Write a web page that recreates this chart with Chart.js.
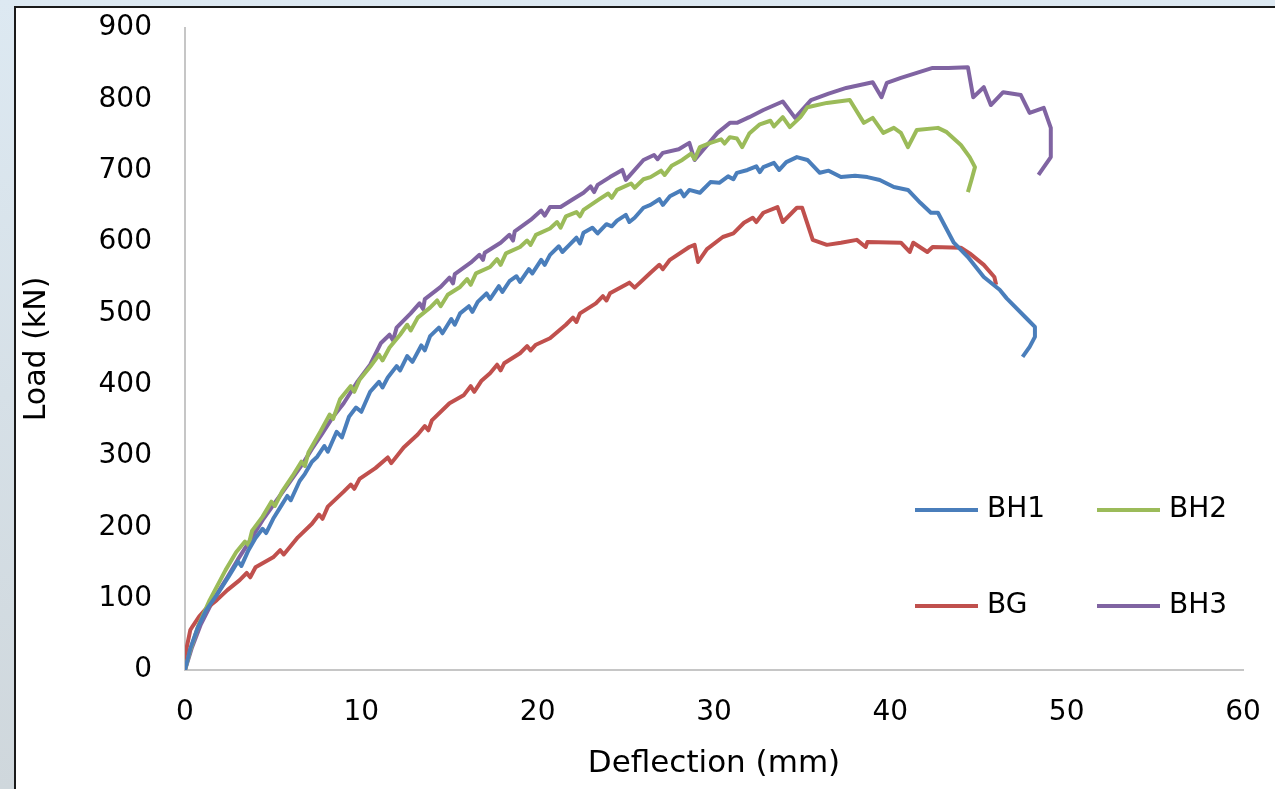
<!DOCTYPE html>
<html>
<head>
<meta charset="utf-8">
<script src="https://cdn.jsdelivr.net/npm/chart.js@4.4.0/dist/chart.umd.min.js"></script>
<style>
html,body{margin:0;padding:0;overflow:hidden;}
body{width:1275px;height:789px;background:linear-gradient(#dde9f2,#cfd7dc);}
#box{position:absolute;left:14px;top:6px;width:1290px;height:800px;background:#fff;border-left:2px solid #1a1a1a;border-top:2px solid #1a1a1a;}
</style>
</head>
<body>
<div id="box"><canvas id="myCanvas" width="1290" height="800"></canvas></div>
<script>
var seriesNames = ["BH1", "BH2", "BG", "BH3"];
var seriesColors = ["#4a7ebb", "#9bbb59", "#c0504d", "#8064a2"];
var xTicks = [0, 10, 20, 30, 40, 50, 60];
var yTicks = [0, 100, 200, 300, 400, 500, 600, 700, 800, 900];

// BH1
var bh1Defl = [0,0.3,0.7,1.2,1.8,2.5,3.0,3.2,3.6,4.0,4.4,4.6,5.0,5.4,5.8,6.0,6.5,6.8,7.2,7.5,7.9,8.1,8.6,8.9,9.3,9.7,10.0,10.5,11.0,11.2,11.5,12.0,12.2,12.6,12.9,13.4,13.6,13.9,14.4,14.6,15.1,15.3,15.6,16.1,16.3,16.6,17.1,17.3,17.8,18.0,18.4,18.8,19.0,19.5,19.7,20.2,20.4,20.7,21.2,21.4,21.8,22.2,22.4,22.6,23.1,23.4,23.9,24.2,24.5,25.0,25.2,25.5,26.0,26.4,26.9,27.1,27.5,28.1,28.3,28.6,29.2,29.8,30.3,30.8,31.1,31.3,31.9,32.4,32.6,32.8,33.4,33.7,34.1,34.7,
	35.3,36.0,36.5,37.2,38.0,38.7,39.4,40.2,41.0,41.7,42.3,42.7,43.6,44.4,45.3,46.2,46.6,47.8,48.2,48.2,47.9,47.5];
var bh1Load = [0,30,58,84,105,132,152,146,168,185,198,192,212,228,244,238,265,275,292,299,314,306,334,326,355,368,362,390,404,396,410,426,420,440,432,455,448,468,480,472,492,484,500,510,502,516,528,520,538,530,545,552,544,562,556,575,568,582,594,586,596,606,598,613,620,612,625,622,630,638,628,634,648,652,660,652,664,672,664,673,669,684,683,692,688,697,701,706,698,705,711,701,712,719,
	715,697,700,691,693,691,687,677,673,655,641,641,599,579,551,533,521,491,481,467,453,439];

// BH2
var bh2Defl = [0,0.3,0.75,1.4,2.3,2.9,3.4,3.6,3.8,4.4,4.9,5.1,5.5,6.1,6.6,6.8,7.0,7.7,8.2,8.4,8.8,9.4,9.6,9.9,10.5,11.0,11.2,11.6,12.2,12.6,12.8,13.2,13.9,14.3,14.5,14.9,15.6,16.0,16.2,16.5,17.3,17.7,17.9,18.2,19.0,19.4,19.6,19.9,20.7,21.1,21.3,21.6,22.2,22.4,22.6,23.5,24.0,24.2,24.5,25.3,25.5,26.0,26.4,27.0,27.2,27.6,28.2,28.7,28.9,29.2,29.8,30.4,30.6,30.9,31.3,31.6,32.0,32.6,33.2,33.4,33.9,34.3,34.9,35.3,
	36.4,37.7,38.5,39.0,39.6,40.2,40.6,41.0,41.5,42.7,43.2,44.0,44.5,44.8,44.6,44.4];
var bh2Load = [0,28,62,98,140,165,180,175,195,215,236,230,250,272,292,286,305,335,358,352,380,398,390,407,425,442,434,452,470,484,476,494,508,518,510,526,537,548,540,556,565,576,568,584,593,602,596,610,619,628,620,636,642,636,645,660,668,662,673,682,676,688,691,700,694,707,715,724,716,733,739,744,738,747,745,733,752,765,770,762,775,761,775,789,
	795,799,767,774,753,760,753,733,757,760,754,736,719,705,687,670];

// BG
var bgDefl = [0,0.1,0.3,0.45,0.8,1.2,1.8,2.4,3.1,3.5,3.7,4.0,5.0,5.4,5.6,6.4,7.2,7.6,7.8,8.1,9.0,9.4,9.6,9.9,10.8,11.5,11.7,12.4,13.2,13.6,13.8,14.0,15.0,15.8,16.2,16.4,16.8,17.3,17.7,17.9,18.1,19.0,19.4,19.6,19.9,20.7,21.6,22.0,22.2,22.4,23.3,23.7,23.9,24.1,25.2,25.5,26.4,26.9,27.1,27.5,28.6,28.9,29.1,29.6,30.5,31.1,31.7,32.2,32.4,32.8,33.6,33.9,34.7,35.0,35.6,36.4,37.2,38.1,38.6,38.7,40.6,41.1,41.3,42.1,42.4,44.0,44.5,45.3,45.9,46.0];
var bgLoad = [0,32,56,62,75,86,98,112,126,136,130,144,158,168,162,186,205,218,212,229,250,260,254,268,283,298,290,312,330,342,336,350,374,385,398,390,405,416,428,420,430,444,454,448,456,465,484,494,488,500,514,524,518,528,543,536,557,568,562,575,593,596,572,590,607,612,627,634,628,641,649,628,648,648,603,596,599,603,593,600,599,586,599,586,593,592,584,568,551,540];

// BH3
var bh3Defl = [0,0.4,0.9,1.6,2.4,3.0,3.7,4.4,5.2,5.9,6.7,7.2,7.8,8.4,9.0,9.8,10.5,11.1,11.6,11.8,12.0,12.8,13.3,13.5,13.6,14.5,15.0,15.2,15.3,16.2,16.7,16.9,17.0,17.9,18.4,18.6,18.7,19.6,20.2,20.4,20.7,21.3,22.0,22.6,23.0,23.2,23.4,24.1,24.8,25.0,26.0,26.6,26.8,27.1,28.0,28.6,28.9,30.2,30.9,31.3,32.0,32.8,33.9,34.6,35.5,36.5,37.5,39.0,39.5,39.8,40.6,41.5,42.4,43.3,44.4,44.7,45.3,45.7,46.4,47.4,47.9,48.7,49.1,49.1,48.4];
var bh3Load = [0,32,64,98,130,155,182,210,238,262,290,310,332,355,374,405,428,458,470,462,480,500,514,506,520,537,550,542,555,571,582,575,585,599,610,602,615,631,644,637,649,649,660,669,678,670,680,691,701,687,715,722,716,725,730,739,715,753,767,767,775,785,797,774,799,808,816,824,803,823,830,837,844,844,845,803,817,792,810,806,781,788,760,719,694];

var deflections = [bh1Defl, bh2Defl, bgDefl, bh3Defl];
var loads = [bh1Load, bh2Load, bgLoad, bh3Load];

var FONT = "'DejaVu Sans', sans-serif";

function toPoints(xs, ys) {
	var pts = [];
	for (var i = 0; i < xs.length; i++) {
		pts.push({x: xs[i], y: ys[i]});
	}
	return pts;
}

var datasets = [];
for (var i = 0; i < seriesNames.length; i++) {
	datasets.push({
		label: seriesNames[i],
		data: toPoints(deflections[i], loads[i]),
		borderColor: seriesColors[i],
		backgroundColor: seriesColors[i],
		borderWidth: 4,
		borderJoinStyle: 'round',
		pointRadius: 0,
		tension: 0,
		fill: false
	});
}

// legend drawn inside the plot, 2 x 2 like the original
var cornerLegend = {
	id: 'cornerLegend',
	afterDraw: function(chart) {
		var ctx = chart.ctx;
		var cols = [899, 1081];
		var rows = [502, 598];
		ctx.save();
		ctx.font = "28px " + FONT;
		ctx.textBaseline = 'middle';
		ctx.textAlign = 'left';
		for (var i = 0; i < seriesNames.length; i++) {
			var cx = cols[i % 2], cy = rows[Math.floor(i / 2)];
			ctx.strokeStyle = seriesColors[i];
			ctx.lineWidth = 4;
			ctx.beginPath();
			ctx.moveTo(cx, cy);
			ctx.lineTo(cx + 63, cy);
			ctx.stroke();
			ctx.fillStyle = '#000';
			ctx.fillText(seriesNames[i], cx + 72, cy);
		}
		ctx.restore();
	}
};

var ctx = document.getElementById('myCanvas');
var chart = new Chart(ctx, {
	type: 'line',
	data: {datasets: datasets},
	plugins: [cornerLegend],
	options: {
		responsive: false,
		animation: false,
		devicePixelRatio: 1,
		layout: {padding: {left: 0, top: 20, right: 63, bottom: 0}},
		plugins: {
			legend: {display: false},
			tooltip: {enabled: false}
		},
		scales: {
			x: {
				type: 'linear',
				min: 0,
				max: 60,
				afterFit: function(scale) {
					scale.height = 138;
					scale.paddingLeft = 0;
					scale.paddingRight = 0;
				},
				afterBuildTicks: function(scale) {
					scale.ticks = xTicks.map(function(v) { return {value: v}; });
				},
				grid: {display: false, drawTicks: false},
				border: {display: true, color: '#c6c6c6', width: 2},
				ticks: {color: '#000', font: {family: FONT, size: 28}, padding: 26, maxRotation: 0},
				title: {display: true, text: 'Deflection (mm)', color: '#000', font: {family: FONT, size: 31}, padding: {top: 0, bottom: 25}}
			},
			y: {
				type: 'linear',
				min: 0,
				max: 900,
				afterFit: function(scale) {
					scale.width = 169;
					scale.paddingTop = 0;
					scale.paddingBottom = 0;
				},
				afterBuildTicks: function(scale) {
					scale.ticks = yTicks.map(function(v) { return {value: v}; });
				},
				grid: {display: false, drawTicks: false},
				border: {display: true, color: '#c6c6c6', width: 2},
				ticks: {color: '#000', font: {family: FONT, size: 28}, padding: 33},
				title: {display: true, text: 'Load (kN)', color: '#000', font: {family: FONT, size: 30}, padding: {top: 3, bottom: 0}}
			}
		}
	}
});
</script>
</body>
</html>
